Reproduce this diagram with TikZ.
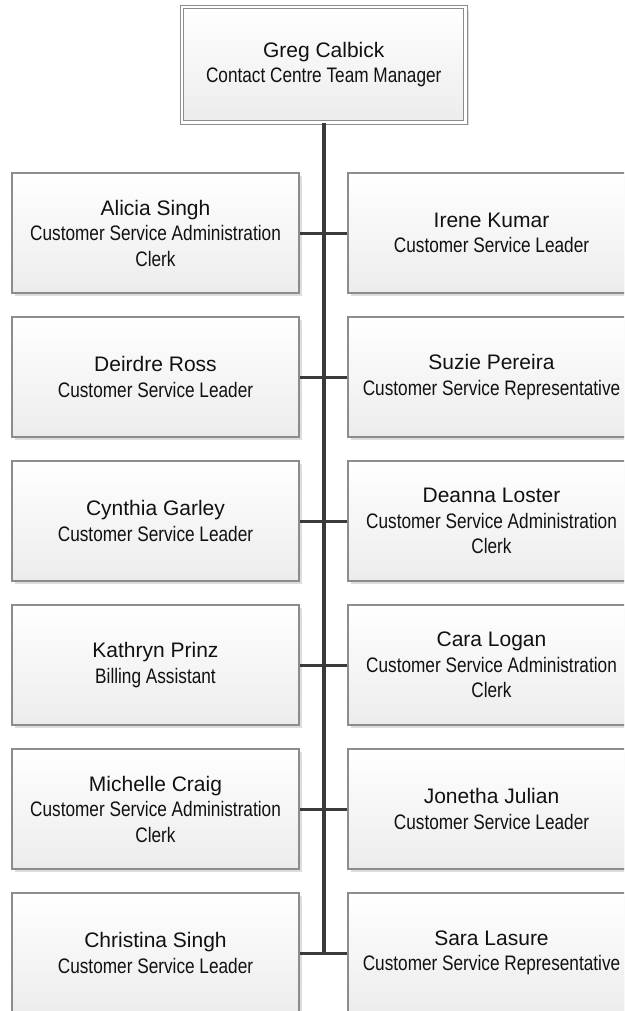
\documentclass[tikz,border=0pt]{standalone}
\usepackage{fontspec}
\setmainfont{Liberation Sans}
\newfontfamily\narrowfont[FakeStretch=0.82]{Liberation Sans}
\usepackage{tikz}
\usetikzlibrary{shadows}
\definecolor{boxline}{HTML}{8C8C8C}
\definecolor{boxfill}{HTML}{ECECEC}
\definecolor{boxshade}{HTML}{DDDDDD}
\definecolor{spine}{HTML}{3A3A3A}
\definecolor{ink}{HTML}{111111}
\tikzstyle{person}=[rectangle,draw=boxline,line width=1.3pt,top color=white,bottom color=boxfill,
  minimum width=287pt,minimum height=120pt,inner sep=0pt,align=center,text=ink,
  font=\fontsize{21}{25.5}\selectfont,
  drop shadow={shadow xshift=3pt,shadow yshift=-3pt,fill=boxshade,opacity=1}]
\tikzstyle{boss}=[person,minimum width=283.5pt,minimum height=115.5pt,double=white,double distance=2.6pt,line width=1.1pt]
\tikzstyle{link}=[draw=spine,line width=3.5pt]

\begin{document}
\begin{tikzpicture}[x=1pt,y=-1pt]
				\clip (0,0) rectangle (624,1011);

				% The manager on top
				\node[boss] (mgr) at (323.75,64.75) {Greg Calbick\\\narrowfont Contact Centre Team Manager};

				% Left column of staff
				\foreach \i/\y/\name/\job in {1/233/Alicia Singh/{Customer Service Administration\\\narrowfont Clerk},
										2/377/Deirdre Ross/{Customer Service Leader}, 3/521/Cynthia Garley/{Customer Service Leader},
										4/665/Kathryn Prinz/{Billing Assistant}, 5/809/Michelle Craig/{Customer Service Administration\\\narrowfont Clerk},
										6/953/Christina Singh/{Customer Service Leader}}
				\node[person] (l\i) at (155.5,\y) {\name\\\narrowfont\job};

				% Right column of staff
				\foreach \i/\y/\name/\job in {1/233/Irene Kumar/{Customer Service Leader}, 2/377/Suzie Pereira/{Customer Service Representative},
										3/521/Deanna Loster/{Customer Service Administration\\\narrowfont Clerk}, 4/665/Cara Logan/{Customer Service Administration\\\narrowfont Clerk},
										5/809/Jonetha Julian/{Customer Service Leader}, 6/953/Sara Lasure/{Customer Service Representative}}
				\node[person] (r\i) at (491.5,\y) {\name\\\narrowfont\job};

				% Spine down from the manager and the cross links
				\path[link] (mgr.south) -- (mgr.south |- l6.east);
				\foreach \i in {1,...,6}
				\path[link,line width=3pt] (l\i.east) -- (r\i.west);

			\end{tikzpicture}
\end{document}
